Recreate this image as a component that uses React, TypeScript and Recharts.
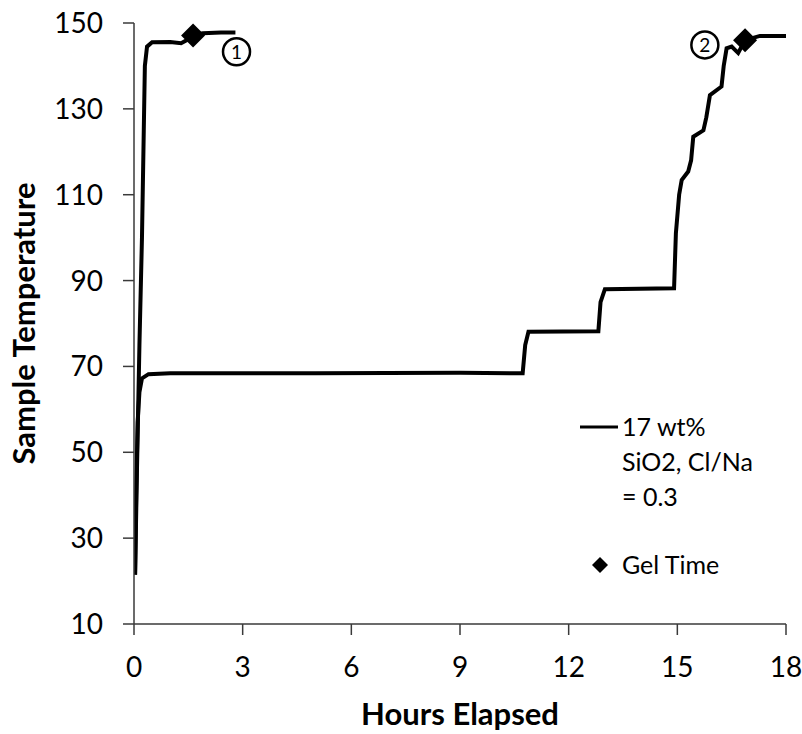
import { ComposedChart, Line, Scatter, XAxis, YAxis, ReferenceDot } from 'recharts'

// run 1: fast heat-up, gels early
const run1Hours = [0.03, 0.08, 0.15, 0.22, 0.27, 0.3, 0.36, 0.5, 1.0, 1.3, 1.5, 1.63, 1.9, 2.4, 2.8]
const run1Temp = [21.5, 45, 75, 100, 125, 140, 144.5, 145.5, 145.6, 145.3, 146.2, 147.1, 147.6, 147.8, 147.8]

// run 2: held at 68, then stepped up
const run2Hours = [
  0.03, 0.06, 0.1, 0.15, 0.22, 0.4, 1, 5, 9, 10.73, 10.8, 10.89, 12.82, 12.88, 13.0, 14.91,
  14.96, 15.05, 15.12, 15.3, 15.38, 15.44, 15.72, 15.8, 15.9, 16.22, 16.28, 16.36, 16.5,
  16.68, 16.87, 17.28, 18,
]
const run2Temp = [
  21.5, 40, 57, 64, 67.2, 68.2, 68.4, 68.4, 68.5, 68.4, 75, 78.1, 78.2, 85, 88.0, 88.2,
  101, 110, 113.4, 115.4, 118, 123.5, 125, 128, 133.2, 135.2, 140, 144.1, 144.5,
  143, 146, 147, 147,
]

const gelHours = [1.63, 16.87]
const gelTemp = [147.1, 146]

const markerHours = [2.83, 15.76]
const markerTemp = [143.3, 144.9]
const markerText = ['1', '2']

const xTicks = [0, 3, 6, 9, 12, 15, 18]
const yTicks = [10, 30, 50, 70, 90, 110, 130, 150]

const run1 = run1Hours.map((h, i) => ({ h, t: run1Temp[i] }))
const run2 = run2Hours.map((h, i) => ({ h, t: run2Temp[i] }))
const gel = gelHours.map((h, i) => ({ h, t: gelTemp[i] }))

const font = 'Lato, "Open Sans", sans-serif'
const axisColor = '#3a3a3a'

const Diamond = (props: any) => {
  const { cx, cy } = props
  const s = 12
  return <polygon points={`${cx},${cy - s} ${cx + s},${cy} ${cx},${cy + s} ${cx - s},${cy}`} fill="#000" />
}

export default function App() {
  return (
    <div style={{ position: 'absolute', left: 0, top: 0, width: 802, height: 734, background: '#fff' }}>
      <ComposedChart width={802} height={734} margin={{ top: 23, right: 16, bottom: 0, left: 0 }}>
        <XAxis
          dataKey="h"
          type="number"
          domain={[0, 18]}
          ticks={xTicks}
          allowDataOverflow
          height={110}
          tickSize={11}
          tickMargin={22}
          stroke={axisColor}
          strokeWidth={1.5}
          tick={{ fill: '#000', fontSize: 28, fontFamily: font }}
          label={{
            content: ({ viewBox }: any) => (
              <text
                x={viewBox.x + viewBox.width / 2}
                y={725}
                textAnchor="middle"
                fontSize={31}
                fontWeight="bold"
                fontFamily={font}
                fill="#000"
              >
                Hours Elapsed
              </text>
            ),
          }}
        />
        <XAxis xAxisId="top" orientation="top" type="number" domain={[0, 18]} height={0} tick={false} tickLine={false} stroke={axisColor} strokeWidth={1.5} />
        <YAxis
          dataKey="t"
          type="number"
          domain={[10, 150]}
          ticks={yTicks}
          allowDataOverflow
          width={134}
          tickSize={11}
          tickMargin={20}
          stroke={axisColor}
          strokeWidth={1.5}
          tick={{ fill: '#000', fontSize: 28, fontFamily: font }}
          label={{
            content: ({ viewBox }: any) => {
              const cx = 23
              const cy = viewBox.y + viewBox.height / 2
              return (
                <text
                  x={cx}
                  y={cy}
                  transform={`rotate(-90, ${cx}, ${cy})`}
                  textAnchor="middle"
                  dominantBaseline="central"
                  fontSize={31}
                  fontWeight="bold"
                  fontFamily={font}
                  fill="#000"
                >
                  Sample Temperature
                </text>
              )
            },
          }}
        />
        <YAxis yAxisId="right" orientation="right" type="number" domain={[10, 150]} width={0} tick={false} tickLine={false} stroke={axisColor} strokeWidth={1.5} />
        <Line data={run2} dataKey="t" type="linear" stroke="#000" strokeWidth={4} dot={false} isAnimationActive={false} />
        <Line data={run1} dataKey="t" type="linear" stroke="#000" strokeWidth={4} dot={false} isAnimationActive={false} />
        <Scatter data={gel} dataKey="t" shape={Diamond} isAnimationActive={false} />
        {markerHours.map((h, i) => (
          <ReferenceDot
            key={i}
            x={h}
            y={markerTemp[i]}
            r={13.5}
            fill="#fff"
            stroke="#000"
            strokeWidth={2.5}
            label={{ value: markerText[i], position: 'center', fontSize: 19, fontFamily: font, fill: '#000' }}
          />
        ))}
      </ComposedChart>
      <div style={{ position: 'absolute', left: 578, top: 409, fontFamily: font, fontSize: 25, lineHeight: '35px', color: '#000' }}>
        <div style={{ display: 'flex', alignItems: 'flex-start' }}>
          <svg width={44} height={35}>
            <line x1={2} y1={18} x2={40} y2={18} stroke="#000" strokeWidth={3} />
          </svg>
          <div>
            17 wt%
            <br />
            SiO2, Cl/Na
            <br />= 0.3
          </div>
        </div>
        <div style={{ display: 'flex', alignItems: 'center', marginTop: 33 }}>
          <svg width={44} height={35}>
            <polygon points="22,10 30,18 22,26 14,18" fill="#000" />
          </svg>
          <div>Gel Time</div>
        </div>
      </div>
    </div>
  )
}
